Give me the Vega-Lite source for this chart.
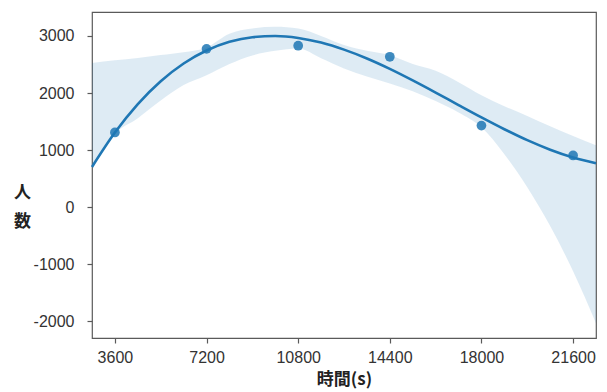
{
  "$schema": "https://vega.github.io/schema/vega-lite/v6.json",
  "width": 504,
  "height": 326,
  "autosize": "none",
  "padding": {"left": 92, "top": 12, "right": 11, "bottom": 54},
  "background": "white",
  "config": {
    "view": {"stroke": "#5a5a5a", "strokeWidth": 1.2},
    "axis": {
      "grid": false,
      "domain": false,
      "tickColor": "#5a5a5a",
      "tickSize": 5,
      "tickWidth": 1.2,
      "labelFont": "Liberation Sans",
      "labelFontSize": 16,
      "labelColor": "#333333",
      "titleFont": "Noto Sans CJK JP",
      "titleFontWeight": "bold",
      "titleFontSize": 17,
      "titleColor": "#222222"
    }
  },
  "datasets": {
    "fit": [
      {"t": 2700, "fit": 706, "lo": 690, "hi": 2527},
      {"t": 3600, "fit": 1308, "lo": 1285, "hi": 2574},
      {"t": 4500, "fit": 1807, "lo": 1560, "hi": 2615},
      {"t": 5400, "fit": 2207, "lo": 1870, "hi": 2665},
      {"t": 6300, "fit": 2518, "lo": 2140, "hi": 2715},
      {"t": 7200, "fit": 2745, "lo": 2312, "hi": 2800},
      {"t": 8100, "fit": 2897, "lo": 2510, "hi": 3040},
      {"t": 9000, "fit": 2979, "lo": 2660, "hi": 3130},
      {"t": 9900, "fit": 3000, "lo": 2740, "hi": 3160},
      {"t": 10800, "fit": 2966, "lo": 2779, "hi": 3130},
      {"t": 11700, "fit": 2884, "lo": 2610, "hi": 3000},
      {"t": 12600, "fit": 2761, "lo": 2430, "hi": 2840},
      {"t": 13500, "fit": 2606, "lo": 2290, "hi": 2740},
      {"t": 14400, "fit": 2424, "lo": 2166, "hi": 2662},
      {"t": 15300, "fit": 2222, "lo": 2030, "hi": 2510},
      {"t": 16200, "fit": 2009, "lo": 1860, "hi": 2390},
      {"t": 17100, "fit": 1790, "lo": 1660, "hi": 2190},
      {"t": 18000, "fit": 1574, "lo": 1400, "hi": 1960},
      {"t": 18900, "fit": 1367, "lo": 930, "hi": 1770},
      {"t": 19800, "fit": 1175, "lo": 350, "hi": 1600},
      {"t": 20700, "fit": 1008, "lo": -330, "hi": 1420},
      {"t": 21600, "fit": 871, "lo": -1120, "hi": 1250},
      {"t": 22500, "fit": 771, "lo": -2030, "hi": 1086}
    ],
    "pts": [
      {"t": 3600, "n": 1310},
      {"t": 7200, "n": 2775},
      {"t": 10800, "n": 2830},
      {"t": 14400, "n": 2635},
      {"t": 18000, "n": 1430},
      {"t": 21600, "n": 907}
    ]
  },
  "encoding": {
    "x": {
      "field": "t",
      "type": "quantitative",
      "scale": {"domain": [2700, 22500], "nice": false, "zero": false},
      "axis": {
        "values": [3600, 7200, 10800, 14400, 18000, 21600],
        "format": "d",
        "labelPadding": 6,
        "title": "時間(s)",
        "titlePadding": 6
      }
    }
  },
  "layer": [
    {
      "data": {"name": "fit"},
      "mark": {"type": "area", "color": "#1f77b4", "opacity": 0.15, "interpolate": "monotone"},
      "encoding": {
        "y": {
          "field": "lo",
          "type": "quantitative",
          "scale": {"domain": [-2290, 3420], "nice": false, "zero": false},
          "axis": {
            "values": [-2000, -1000, 0, 1000, 2000, 3000],
            "format": "d",
            "labelExpr": "replace(datum.label, '\u2212', '-')",
            "labelPadding": 13,
            "title": ["人", "数"],
            "titleAngle": 0,
            "titleAlign": "center",
            "titleBaseline": "middle",
            "titleLineHeight": 29,
            "titleX": -70,
            "titleY": 180
          }
        },
        "y2": {"field": "hi"}
      }
    },
    {
      "data": {"name": "fit"},
      "mark": {"type": "line", "color": "#1f77b4", "strokeWidth": 2.6, "interpolate": "monotone"},
      "encoding": {"y": {"field": "fit", "type": "quantitative"}}
    },
    {
      "data": {"name": "pts"},
      "mark": {"type": "point", "filled": true, "color": "#1f77b4", "opacity": 0.85, "size": 95, "strokeWidth": 0},
      "encoding": {"y": {"field": "n", "type": "quantitative"}}
    }
  ]
}
